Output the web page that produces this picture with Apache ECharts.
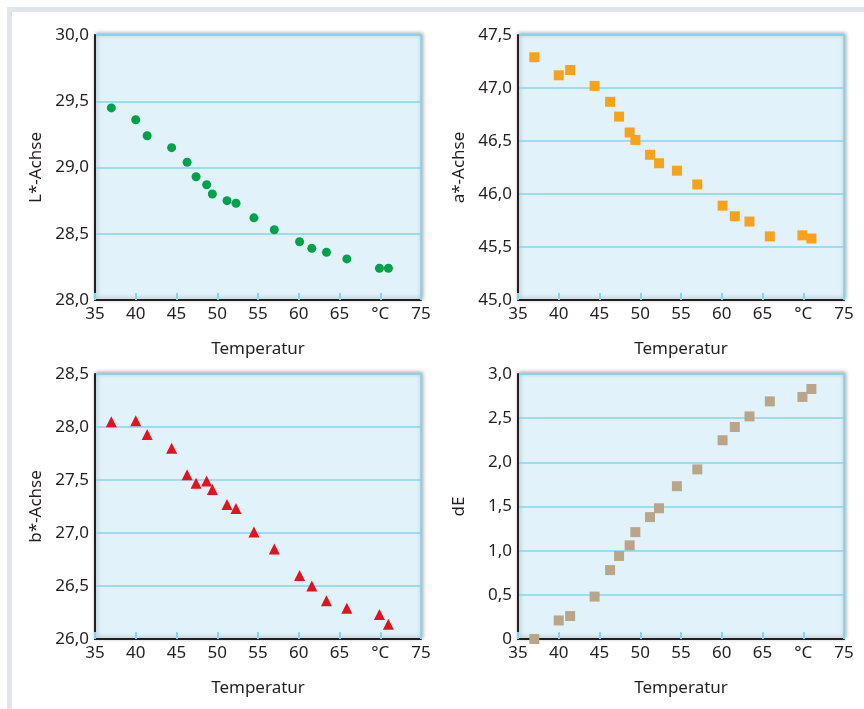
<!DOCTYPE html>
<html>
<head>
<meta charset="utf-8">
<script src="https://cdn.jsdelivr.net/npm/echarts@6/dist/echarts.min.js"></script>
<style>
  html, body { margin: 0; padding: 0; background: #fff; }
  #frame { position: absolute; left: 7px; top: 7px; right: 0; bottom: 0;
           border-top: 5px solid #dfe5ea; border-left: 5px solid #dfe5ea; }
  #chart { position: absolute; left: 0; top: 0; width: 864px; height: 709px; }
</style>
</head>
<body>
<div id="frame"></div>
<div id="chart"></div>
<script>
// Temperatur in °C (gleich für alle vier Diagramme)
const temperatur = [37.0, 40.0, 41.4, 44.4, 46.3, 47.4, 48.7, 49.4, 51.2, 52.3, 54.5, 57.0, 60.1, 61.6, 63.4, 65.9, 69.9, 71.0];
const lWerte  = [29.45, 29.36, 29.24, 29.15, 29.04, 28.93, 28.87, 28.80, 28.75, 28.73, 28.62, 28.53, 28.44, 28.39, 28.36, 28.31, 28.24, 28.24];
const aWerte  = [47.29, 47.12, 47.17, 47.02, 46.87, 46.73, 46.58, 46.51, 46.37, 46.29, 46.22, 46.09, 45.89, 45.79, 45.74, 45.60, 45.61, 45.58];
const bWerte  = [28.05, 28.06, 27.93, 27.80, 27.55, 27.47, 27.49, 27.41, 27.27, 27.23, 27.01, 26.85, 26.60, 26.50, 26.36, 26.29, 26.23, 26.14];
const dEWerte = [0.00, 0.21, 0.26, 0.48, 0.78, 0.94, 1.06, 1.21, 1.38, 1.48, 1.73, 1.92, 2.25, 2.40, 2.52, 2.69, 2.74, 2.83];

const panels = [
  { name: 'L*-Achse', data: lWerte,  min: 28, max: 30,   symbol: 'circle',   size: 9,  color: '#00a14b' },
  { name: 'a*-Achse', data: aWerte,  min: 45, max: 47.5, symbol: 'rect',     size: 10, color: '#f7a21b' },
  { name: 'b*-Achse', data: bWerte,  min: 26, max: 28.5, symbol: 'triangle', size: 11, color: '#e3121f' },
  { name: 'dE',       data: dEWerte, min: 0,  max: 3,    symbol: 'rect',     size: 10, color: '#b9a68a' }
];

const pos = [
  { left: 95,  top: 35 },
  { left: 518, top: 35 },
  { left: 95,  top: 374 },
  { left: 518, top: 374 }
];

const dark = '#231f20';
const blue = '#84d3ef';
const font = '"Noto Sans", sans-serif';

const chart = echarts.init(document.getElementById('chart'));

const grid = [], xAxis = [], yAxis = [], series = [];
panels.forEach((p, i) => {
  grid.push({
    left: pos[i].left, top: pos[i].top, width: 326, height: 265,
    show: true, backgroundColor: '#e1f2fa', borderColor: blue, borderWidth: 1.5,
    shadowColor: 'rgba(0,0,0,0.35)', shadowBlur: 4, shadowOffsetX: 1, shadowOffsetY: -1
  });
  xAxis.push({
    gridIndex: i, type: 'value', min: 35, max: 75, interval: 5,
    name: 'Temperatur', nameLocation: 'middle', nameGap: 41,
    nameTextStyle: { color: dark, fontSize: 17, fontFamily: font },
    axisLine: { show: true, onZero: false, lineStyle: { color: dark, width: 2 } },
    axisTick: { show: true, inside: true, length: 7, lineStyle: { color: blue, width: 2 } },
    axisLabel: { color: dark, fontSize: 17, fontFamily: font, margin: 6,
      formatter: v => v === 70 ? '°C' : String(v) },
    splitLine: { show: false }
  });
  yAxis.push({
    gridIndex: i, type: 'value', min: p.min, max: p.max, interval: 0.5,
    name: p.name, nameLocation: 'middle', nameGap: 50, nameRotate: 90,
    nameTextStyle: { color: dark, fontSize: 17, fontFamily: font },
    axisLine: { show: true, onZero: false, lineStyle: { color: dark, width: 2 } },
    axisTick: { show: false },
    axisLabel: { color: dark, fontSize: 17, fontFamily: font, margin: 6,
      formatter: v => v === 0 ? '0' : v.toFixed(1).replace('.', ',') },
    splitLine: { show: true, lineStyle: { color: blue, width: 1.5 } }
  });
  series.push({
    type: 'scatter', xAxisIndex: i, yAxisIndex: i,
    symbol: p.symbol, symbolSize: p.size,
    itemStyle: { color: p.color, opacity: 1 },
    data: temperatur.map((t, k) => [t, p.data[k]]),
    z: 5
  });
});

chart.setOption({ animation: false, grid, xAxis, yAxis, series });
</script>
</body>
</html>
